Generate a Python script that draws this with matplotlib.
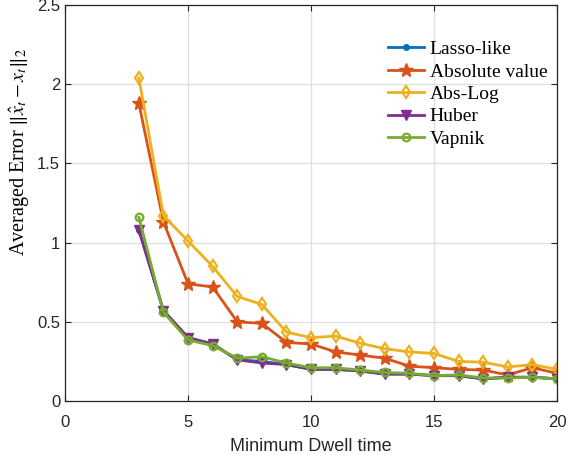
import matplotlib
matplotlib.use("Agg")
import matplotlib.pyplot as plt

x = list(range(3, 21))
lasso = [1.08, 0.57, 0.40, 0.36, 0.26, 0.25, 0.23, 0.20, 0.20, 0.19, 0.17, 0.17, 0.16, 0.16, 0.14, 0.15, 0.15, 0.14]
absval = [1.88, 1.13, 0.74, 0.72, 0.50, 0.49, 0.37, 0.36, 0.31, 0.29, 0.27, 0.22, 0.21, 0.20, 0.195, 0.165, 0.21, 0.175]
abslog = [2.04, 1.17, 1.01, 0.85, 0.66, 0.61, 0.435, 0.40, 0.41, 0.365, 0.33, 0.31, 0.30, 0.25, 0.245, 0.215, 0.23, 0.20]
huber = [1.08, 0.57, 0.40, 0.36, 0.26, 0.24, 0.23, 0.20, 0.20, 0.19, 0.17, 0.17, 0.16, 0.16, 0.14, 0.15, 0.15, 0.14]
vapnik = [1.16, 0.56, 0.385, 0.35, 0.27, 0.28, 0.24, 0.21, 0.21, 0.195, 0.18, 0.175, 0.16, 0.165, 0.145, 0.145, 0.15, 0.14]
labels = ["Lasso-like", "Absolute value", "Abs-Log", "Huber", "Vapnik"]

plt.rcParams['mathtext.fontset'] = 'stix'
plt.rcParams['font.family'] = ['Liberation Sans', 'DejaVu Sans']

fig = plt.figure(figsize=(5.76, 4.55), dpi=100)
ax = fig.add_axes([0.113, 0.1187, 0.854, 0.870])

cols = ['#0072BD', '#D95319', '#EDB120', '#7E2F8E', '#77AC30']
lw = 2.0
ax.plot(x, lasso, color=cols[0], marker='.', ms=8, lw=lw, label=labels[0])
ax.plot(x, absval, color=cols[1], marker='*', ms=10, lw=lw, label=labels[1])
ax.plot(x, abslog, color=cols[2], marker='d', ms=6.5, mfc='none', mew=1.6, lw=lw, label=labels[2])
ax.plot(x, huber, color=cols[3], marker='v', ms=7, lw=lw, label=labels[3])
ax.plot(x, vapnik, color=cols[4], marker='o', ms=5.5, mfc='none', mew=1.6, lw=lw, label=labels[4])

ax.set_xlim(0, 20)
ax.set_ylim(0, 2.5)
ax.set_xticks([0, 5, 10, 15, 20])
ax.set_yticks([0, 0.5, 1, 1.5, 2, 2.5])
ax.set_yticklabels(['0', '0.5', '1', '1.5', '2', '2.5'])
ax.grid(True, color='#dfdfdf', lw=0.9)
ax.set_axisbelow(True)
for s in ax.spines.values():
    s.set_color('#262626')
    s.set_linewidth(0.9)
ax.tick_params(direction='in', top=True, right=True, labelsize=12, colors='#262626', length=4)
ax.tick_params(axis='x', pad=10)

ax.set_xlabel('Minimum Dwell time', fontsize=13, color='#262626', labelpad=6)
ax.set_ylabel(r'Averaged Error $\|\hat{x}_t - x_t\|_2$', fontsize=14.5,
              family=['Liberation Serif'], color='black')
ax.yaxis.set_label_coords(-0.067, 0.63)

leg = ax.legend(loc='upper right', bbox_to_anchor=(1.016, 0.955), frameon=False,
                prop={'family': 'Liberation Serif', 'size': 14},
                handlelength=1.85, handletextpad=0.3, labelspacing=0.25)

fig.savefig('out.png', dpi=100)
